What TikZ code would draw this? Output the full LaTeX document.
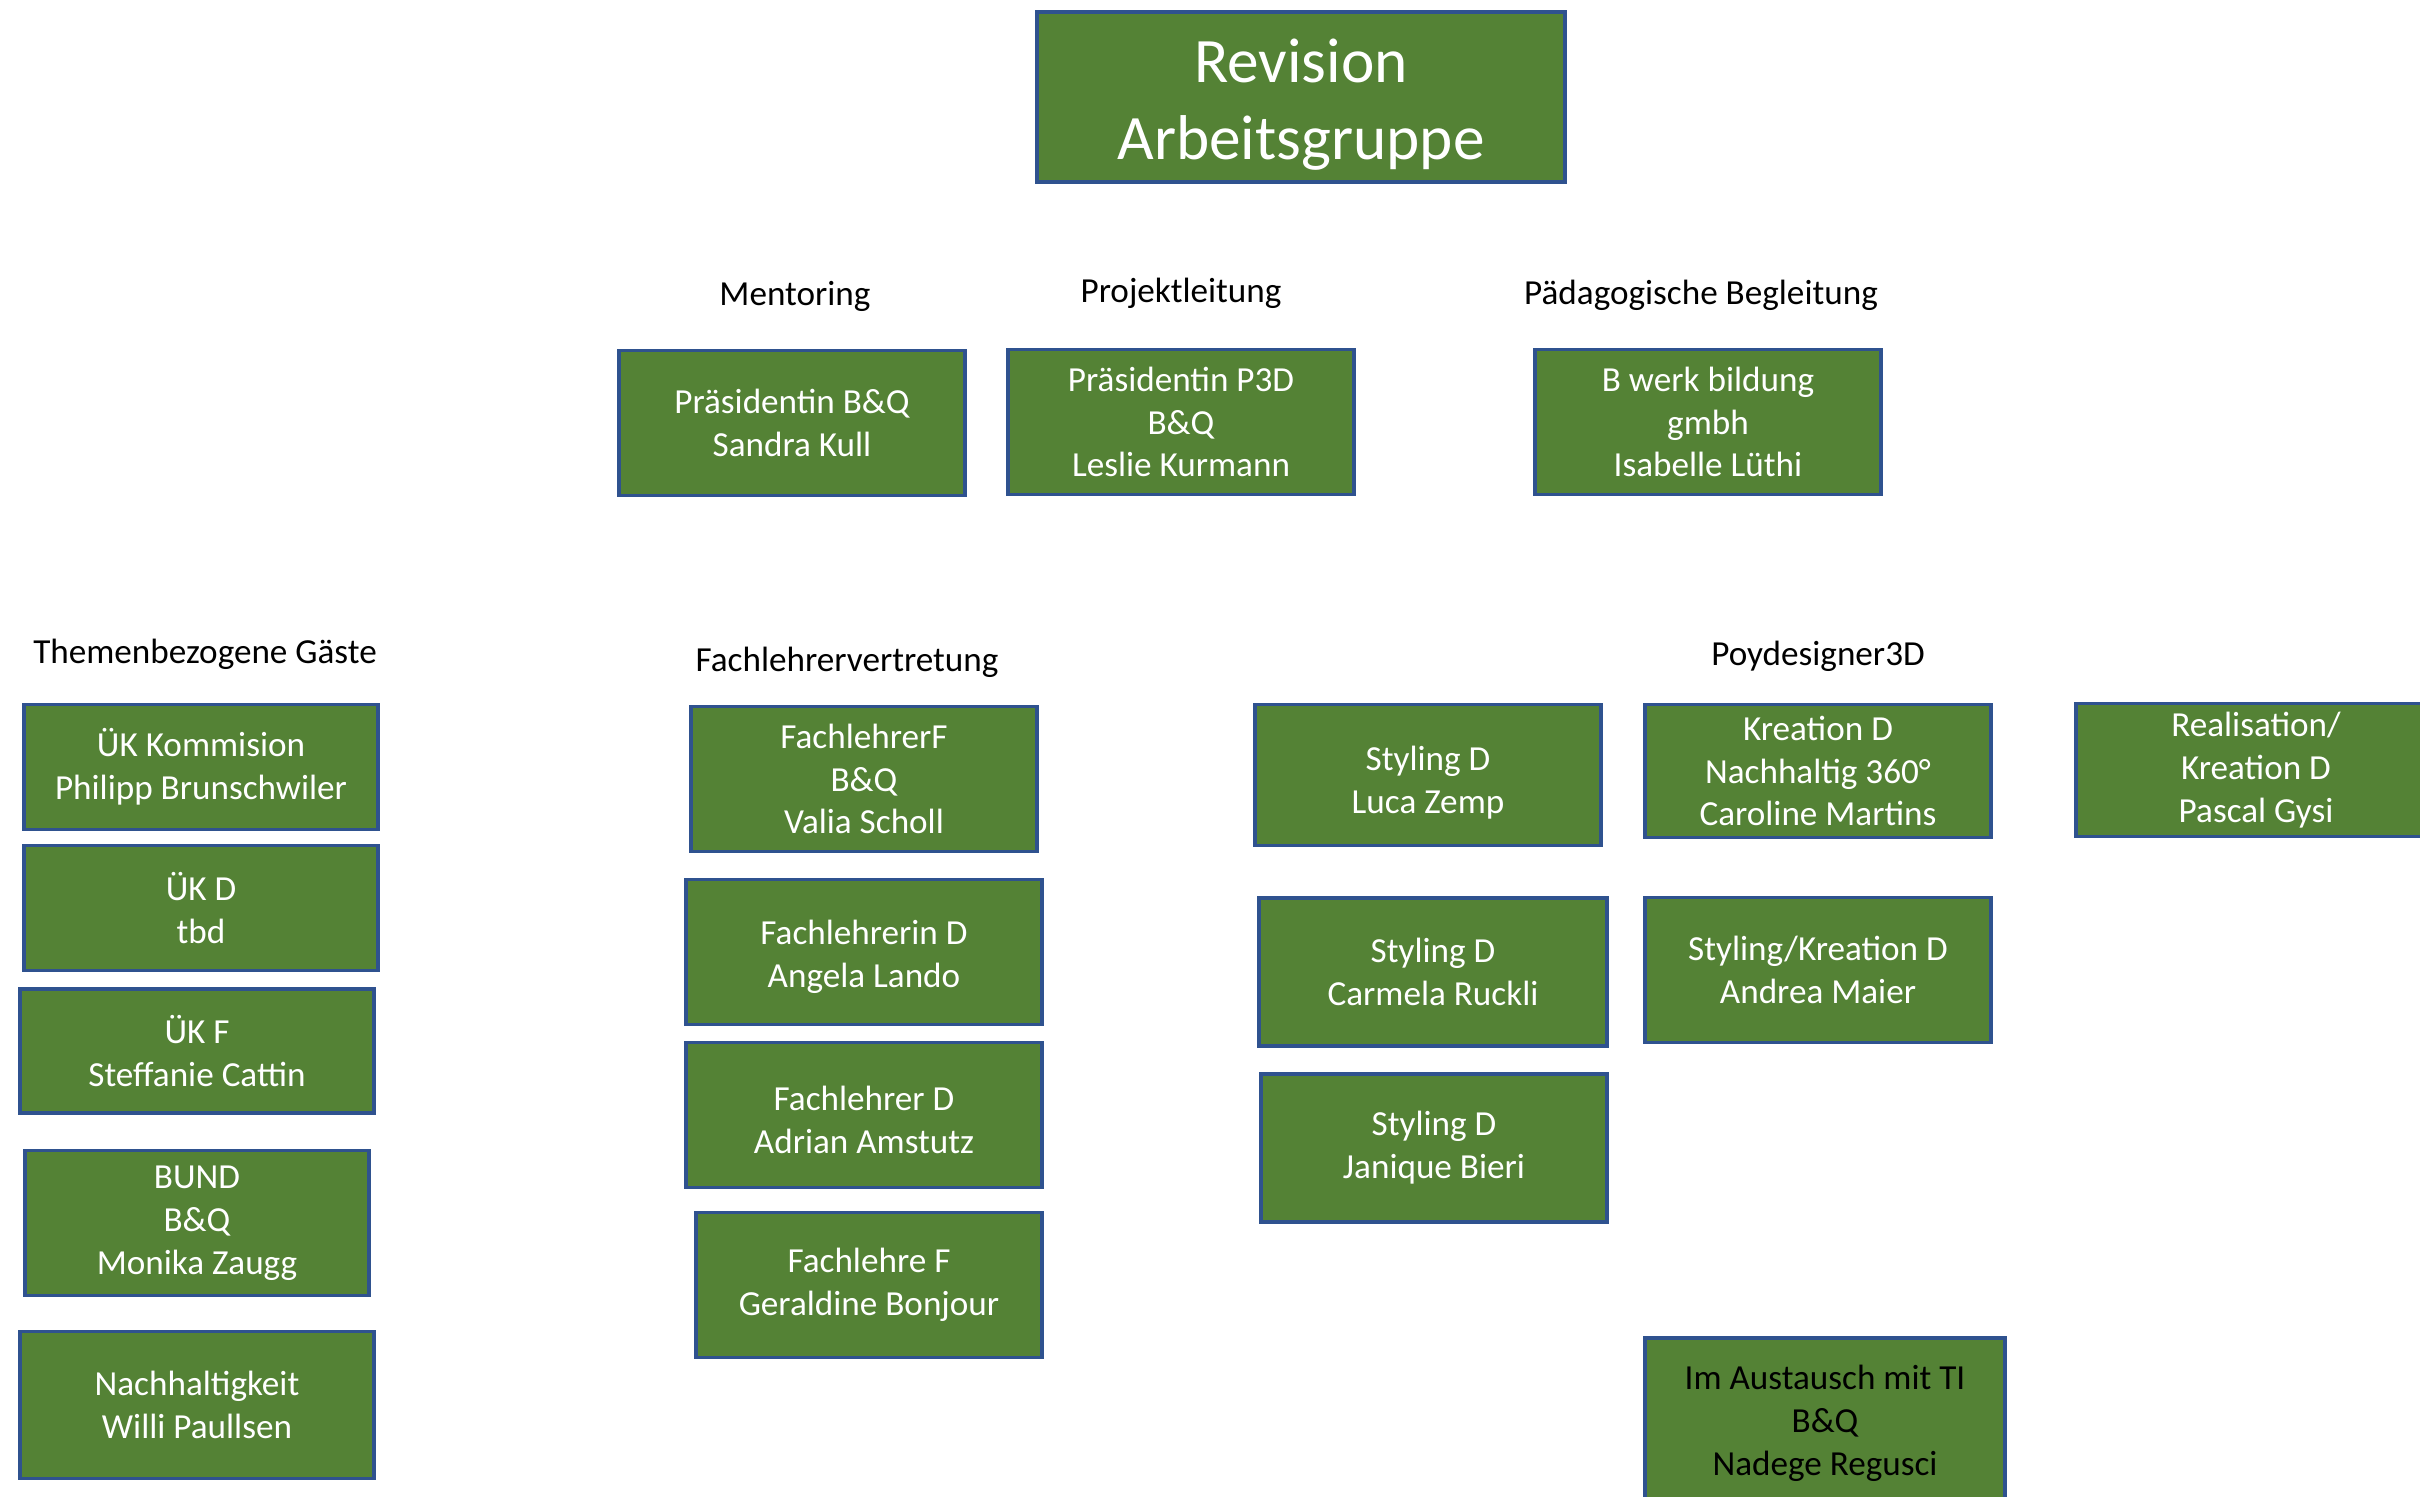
\documentclass[tikz,border=0pt]{standalone}
\usepackage{fontspec}
\setmainfont{Carlito}
\usepackage{xcolor}
\usepackage{tikz}
\definecolor{boxgreen}{RGB}{84,130,53}
\definecolor{boxblue}{RGB}{47,82,143}

\begin{document}
\begin{tikzpicture}[x=0.01cm,y=-0.01cm,
  box/.style={draw=boxblue,line width=1.1pt,fill=boxgreen,text=white,align=center,
              minimum width=3.46cm,minimum height=1.45cm,inner sep=0pt,
              font=\fontsize{10}{12.2}\selectfont},
  guest/.style={box,minimum width=3.53cm,minimum height=1.25cm},
  head/.style={align=center,inner sep=0pt,font=\fontsize{10}{12.2}\selectfont}
]
  \clip (0,0) rectangle (2420,1497);
  \node[box,minimum width=5.28cm,minimum height=1.70cm,
        font=\fontsize{18}{21.8}\selectfont] (rev) at (1301,97) {\rule{0pt}{16.6pt}Revision\\Arbeitsgruppe};

  \node[head] (hment) at (795,296) {Mentoring};
  \node[head] (hproj) at (1181,293) {Projektleitung};
  \node[head] (hpaed) at (1701,295) {Pädagogische Begleitung};
  \node[box] (ment) at (792,423) {Präsidentin B\&Q\\Sandra Kull};
  \node[box] (proj) at (1181,422) {Präsidentin P3D\\B\&Q\\Leslie Kurmann};
  \node[box] (paed) at (1708,422) {B werk bildung\\gmbh\\Isabelle Lüthi};

  \node[head] (hgast) at (205,654) {Themenbezogene Gäste};
  \node[guest] (uek) at (201,767) {ÜK Kommision\\Philipp Brunschwiler};
  \node[guest] (uekd) at (201,908) {ÜK D\\tbd};
  \node[guest,minimum width=3.54cm,minimum height=1.24cm] (uekf) at (197,1051) {ÜK F\\Steffanie Cattin};
  \node[box,minimum width=3.44cm] (bund) at (197,1223) {BUND\\B\&Q\\Monika Zaugg};
  \node[box,minimum width=3.54cm,minimum height=1.47cm] (nach) at (197,1405) {Nachhaltigkeit\\Willi Paullsen};

  \node[head] (hfach) at (847,662) {Fachlehrervertretung};
  \node[box] (fachf) at (864,779) {FachlehrerF\\B\&Q\\Valia Scholl};
  \node[box,minimum width=3.55cm] (fachd) at (864,952) {\rule{0pt}{9.5pt}Fachlehrerin D\\Angela Lando};
  \node[box,minimum width=3.55cm] (fachad) at (864,1115) {\rule{0pt}{9.5pt}Fachlehrer D\\Adrian Amstutz};
  \node[box] (fachgb) at (869,1285) {Fachlehre F\\Geraldine Bonjour};

  \node[head] (hpoy) at (1818,656) {Poydesigner3D};
  \node[box,minimum width=3.45cm,minimum height=1.41cm] (luca) at (1428,775) {\rule{0pt}{11.5pt}Styling D\\Luca Zemp};
  \node[box,minimum height=1.33cm] (kreat) at (1818,771) {Kreation D\\Nachhaltig 360°\\Caroline Martins};
  \node[box,minimum width=3.60cm,minimum height=1.33cm] (real) at (2256,770) {Realisation/\\Kreation D\\Pascal Gysi};
  \node[box,minimum width=3.48cm,minimum height=1.48cm] (carm) at (1433,972) {Styling D\\Carmela Ruckli};
  \node[box] (andr) at (1818,970) {Styling/Kreation D\\Andrea Maier};
  \node[box,minimum height=1.48cm] (janq) at (1434,1148) {Styling D\\Janique Bieri};
  \node[box,text=black,minimum width=3.60cm,minimum height=1.70cm] (tiaus) at (1825,1423) {Im Austausch mit TI\\B\&Q\\Nadege Regusci};
\end{tikzpicture}
\end{document}
